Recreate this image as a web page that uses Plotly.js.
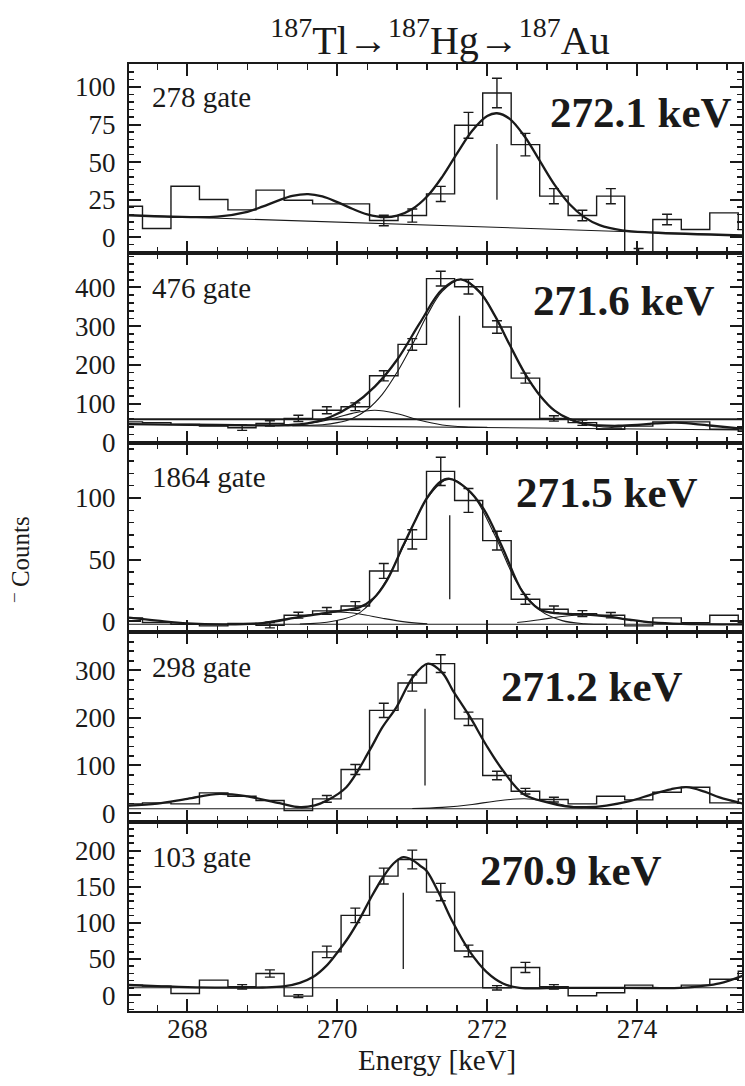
<!DOCTYPE html>
<html><head><meta charset="utf-8">
<script src="https://cdn.plot.ly/plotly-3.0.1.min.js"></script>
<style>html,body{margin:0;padding:0;background:#fff}#chart{width:745px;height:1086px}</style>
</head><body><div id="chart"></div>
<script>
// ---- data ----
const binE = [267.21, 267.59, 267.97, 268.35, 268.73, 269.10, 269.48, 269.86, 270.24, 270.62, 271.00, 271.38, 271.75, 272.13, 272.51, 272.89, 273.27, 273.65, 274.02, 274.40, 274.78, 275.16, 275.54];
const gateLabels = ['278 gate', '476 gate', '1864 gate', '298 gate', '103 gate'];
const peakLabels = ['272.1 keV', '271.6 keV', '271.5 keV', '271.2 keV', '270.9 keV'];
const titleText = '<sup>187</sup>Tl\u2192<sup>187</sup>Hg\u2192<sup>187</sup>Au';
const xTitle = 'Energy [keV]';
const yTitle = '<sup>\u2013</sup> Counts';

// panel 1 (278 gate)
const counts1 = [20.6, 5.8, 33.9, 25.1, 18.2, 31.3, 24.6, 22.2, 22.2, 11.1, 14.4, 28.8, 74.5, 96.0, 61.6, 27.3, 14.4, 27.3, -13, 11.8, 5.1, 16.2, 5.0];
const err1 = [null, null, null, null, null, null, null, null, null, 3.5, 4.4, 5, 8.6, 9.8, 7.5, 5, 3.5, 5, 5.5, 3.5, null, null, null];
const fit1E = [267.22, 267.8, 268.4, 268.8, 269.0, 269.2, 269.4, 269.61, 269.8, 270.0, 270.2, 270.4, 270.63, 270.8, 271.0, 271.2, 271.4, 271.6, 271.8, 272.0, 272.13, 272.3, 272.5, 272.7, 272.9, 273.1, 273.3, 273.5, 273.8, 274.2, 275.42];
const fit1V = [14.6, 13.6, 13.7, 16.9, 20.3, 24.2, 27.5, 28.7, 27.1, 23.3, 18.9, 15.2, 13.3, 14.3, 18.7, 27.2, 40.2, 56, 70.9, 80.7, 82.5, 78.8, 67, 50.9, 34.8, 21.9, 13.2, 8.0, 4.6, 3.1, 1.1];
const bg1E = [267.22, 275.42];
const bg1V = [14.6, 1.1];
const mark1E = [272.13, 272.13];
const mark1V = [25, 62];

// panel 2 (476 gate)
const counts2 = [53, 51, 46.5, 42, 38, 49, 62, 83, 92, 172, 253, 423, 402, 298, 166, 62, 51, 34, 42, 53, 53, 34, 29];
const err2 = [null, null, null, null, 7, 7, 8, 9, 10, 13, 15, 19, 19, 16, 13, 7, 7, null, null, null, null, null, null];
const fit2E = [267.22, 267.8, 268.4, 268.9, 269.3, 269.6, 269.9, 270.2, 270.5, 270.8, 271.1, 271.4, 271.65, 271.9, 272.1, 272.3, 272.5, 272.7, 272.9, 273.1, 273.3, 273.5, 273.75, 274.0, 274.25, 274.5, 274.75, 275.0, 275.42];
const fit2V = [47, 46, 45, 44, 44.5, 49, 65, 96, 144, 214, 308, 395, 421, 388, 328, 252, 179, 122, 82, 60, 48, 44, 43, 45, 49, 51, 48, 43, 35];
const main2E = [269.4, 269.8, 270.0, 270.2, 270.4, 270.6, 270.8, 271.0, 271.2, 271.4, 271.65, 271.9, 272.1, 272.3, 272.5, 272.7, 272.9, 273.1, 273.3, 273.5, 273.8];
const main2V = [43, 45.6, 51, 62, 85, 124, 182, 252, 329, 390, 421, 390, 328, 252, 179, 122, 82, 59, 47, 41, 37];
const side2E = [269.0, 269.3, 269.6, 269.9, 270.2, 270.5, 270.8, 271.1, 271.4, 271.7, 272.0];
const side2V = [43.5, 44.4, 48.3, 59.4, 75, 83, 74, 57, 45, 40, 39];
const bg2E = [267.22, 275.42];
const bg2V = [47, 32];
const level2E = [267.22, 275.42];
const level2V = [60, 60];
const mark2E = [271.63, 271.63];
const mark2V = [90, 327];

// panel 3 (1864 gate)
const counts3 = [2.7, -1, -2.4, -3.8, -1.9, -3.2, 4.9, 8.4, 12.4, 40.8, 66.4, 121.6, 98, 65.4, 17.8, 9.7, 6.2, 4.9, -3.8, 2.7, -1.1, 4.9, -1];
const err3 = [null, null, null, null, null, 2.2, 2.4, 2.7, 3.5, 6, 7.8, 11.5, 9.7, 7.6, 4, 2.7, 2.4, 2.2, null, null, null, null, null];
const fit3E = [267.22, 267.6, 268.0, 268.5, 269.0, 269.5, 269.94, 270.3, 270.48, 270.66, 270.88, 271.05, 271.19, 271.37, 271.5, 271.73, 271.95, 272.21, 272.47, 272.69, 272.91, 273.3, 273.6, 273.9, 274.2, 274.6, 275.42];
const fit3V = [3, 0.5, -1.7, -2.5, -1.5, 3.5, 7.6, 11.5, 18.4, 33, 61.6, 83, 99.4, 113, 115.6, 107.5, 91.3, 58.9, 24, 10, 6.5, 5.5, 3.9, 1.2, -1, -2.2, -2.5];
const main3E = [269.5, 269.94, 270.3, 270.6, 270.9, 271.2, 271.5, 271.8, 272.1, 272.4, 272.7, 273.0, 273.3, 273.6];
const main3V = [-2.3, 0, 7, 28, 63, 100, 115.6, 103, 70, 31, 9, 0.5, -2, -2.5];
const side3aE = [269.0, 269.4, 269.7, 270.0, 270.3, 270.6, 270.9, 271.2];
const side3aV = [-1.2, 2.4, 5.8, 7.5, 5.9, 2.4, -0.5, -2.0];
const side3bE = [272.4, 272.7, 273.0, 273.3, 273.6, 273.9, 274.2, 274.5];
const side3bV = [-1.0, 1.2, 3.8, 5.0, 3.8, 1.2, -1.0, -2.0];
const bg3E = [267.22, 275.42];
const bg3V = [-2.5, -2.5];
const mark3E = [271.5, 271.5];
const mark3V = [17.8, 86];

// panel 4 (298 gate)
const counts4 = [19.3, 21.4, 19.3, 42.5, 35.4, 26.3, 5.3, 29.8, 91.6, 215.8, 273.3, 314, 198, 79, 46, 28.4, 19.3, 35.4, 27.7, 43.9, 54.4, 21.4, 29.8];
const err4 = [null, null, null, null, null, null, null, 7, 10.5, 15, 17, 18.6, 14, 9, 6, 5, null, null, null, null, null, null, null];
const fit4E = [267.22, 267.6, 268.0, 268.43, 268.8, 269.23, 269.5, 269.7, 269.86, 270.12, 270.43, 270.6, 270.79, 271.01, 271.21, 271.4, 271.54, 271.77, 271.99, 272.21, 272.48, 272.79, 273.05, 273.32, 273.59, 273.9, 274.21, 274.45, 274.66, 274.9, 275.1, 275.43];
const fit4V = [15.8, 20, 30, 40.4, 35, 20.7, 12.3, 16, 26.3, 54.4, 131.6, 180, 222.8, 286, 314, 295, 258, 202, 142, 89.5, 40.4, 22.8, 14, 12.3, 15.8, 25, 40, 50, 54.4, 45, 33, 19.3];
const side4E = [271.0, 271.4, 271.8, 272.1, 272.5, 272.8, 273.1, 273.4, 273.8];
const side4V = [9.5, 12, 18, 25, 30, 24, 15, 10.5, 9];
const bg4E = [267.22, 275.42];
const bg4V = [9, 9];
const mark4E = [271.17, 271.17];
const mark4V = [58, 219];

// panel 5 (103 gate)
const counts5 = [13.8, 12.4, 2.3, 20.7, 11.5, 29.9, -1.4, 59.8, 110.3, 164.6, 187.6, 142.5, 61.1, 10.1, 38.2, 11.5, -0.9, 3.2, 13.8, 10.1, 13.8, 22, 33];
const err5 = [null, null, null, null, 3, 5, 2, 8, 10, 11, 13, 12, 8, 3, 7, 3, null, null, null, null, null, null, null];
const fit5E = [267.22, 267.6, 268.0, 268.5, 269.0, 269.28, 269.5, 269.68, 269.85, 269.99, 270.15, 270.3, 270.45, 270.61, 270.75, 270.88, 271.0, 271.1, 271.19, 271.37, 271.54, 271.77, 271.99, 272.21, 272.43, 273.0, 273.77, 274.2, 274.57, 274.85, 275.1, 275.43];
const fit5V = [14, 12.5, 11, 10.3, 10.5, 12, 17, 25.3, 40, 57.5, 80, 105.7, 135, 163, 182, 190.8, 187, 179.3, 172, 138, 101, 59.8, 32.2, 16.1, 10.1, 10, 10.1, 9.8, 10, 12.5, 16.1, 27.6];
const bg5E = [267.22, 275.42];
const bg5V = [10.1, 10.1];
const mark5E = [270.88, 270.88];
const mark5V = [36, 141.6];

// axis settings
const xRange = [267.22, 275.40];
const yRanges = [[-10.8, 115.3], [-1, 488], [-8.9, 144.8], [-17.9, 380], [-22, 240]];
const yDticks = [25, 100, 50, 100, 50];
const yMinor = [5, 20, 10, 20, 10];

// ---- build ----
const INK = '#1a1a1a';
const SERIF = 'Liberation Serif, Times New Roman, serif';
const M = {l: 129, r: 2.5, t: 64, b: 75};
const W = 745, H = 1086;
const PW = W - M.l - M.r, PH = H - M.t - M.b;
const px2x = px => (px - M.l) / PW;
const py2y = py => 1 - (py - M.t) / PH;

const panels = [
  {counts: counts1, err: err1, fits: [[fit1E, fit1V]], comps: [], bgs: [[bg1E, bg1V]], mark: [mark1E, mark1V]},
  {counts: counts2, err: err2, fits: [[fit2E, fit2V]], comps: [[main2E, main2V], [side2E, side2V]], bgs: [[bg2E, bg2V]], thick: [[level2E, level2V]], mark: [mark2E, mark2V]},
  {counts: counts3, err: err3, fits: [[fit3E, fit3V]], comps: [[main3E, main3V], [side3aE, side3aV], [side3bE, side3bV]], bgs: [[bg3E, bg3V]], mark: [mark3E, mark3V]},
  {counts: counts4, err: err4, fits: [[fit4E, fit4V]], comps: [[side4E, side4V]], bgs: [[bg4E, bg4V]], mark: [mark4E, mark4V]},
  {counts: counts5, err: err5, fits: [[fit5E, fit5V]], comps: [], bgs: [[bg5E, bg5V]], mark: [mark5E, mark5V]}
];

const traces = [];
const layout = {
  width: W, height: H, margin: M,
  paper_bgcolor: '#fff', plot_bgcolor: '#fff',
  showlegend: false,
  font: {family: SERIF, color: INK},
  title: {text: titleText, font: {family: SERIF, size: 40, color: INK}, x: 440 / W, xanchor: 'center', xref: 'container', y: 1 - 40 / H, yanchor: 'middle'},
  annotations: []
};

panels.forEach((p, i) => {
  const n = i + 1;
  const xa = 'x' + (n === 1 ? '' : n), ya = 'y' + (n === 1 ? '' : n);
  const base = {xaxis: xa, yaxis: ya, hoverinfo: 'skip', showlegend: false};
  p.bgs.forEach(b => traces.push(Object.assign({type: 'scatter', mode: 'lines', x: b[0], y: b[1], line: {color: INK, width: 1.1}}, base)));
  (p.thick || []).forEach(b => traces.push(Object.assign({type: 'scatter', mode: 'lines', x: b[0], y: b[1], line: {color: INK, width: 2}}, base)));
  p.comps.forEach(c => traces.push(Object.assign({type: 'scatter', mode: 'lines', x: c[0], y: c[1], line: {color: INK, width: 1.1, shape: 'spline', smoothing: 1}}, base)));
  traces.push(Object.assign({type: 'scatter', mode: 'lines', x: binE, y: p.counts, line: {color: INK, width: 1.4, shape: 'hvh'}}, base));
  const ex = [], ey = [], ee = [];
  p.err.forEach((e, k) => { if (e !== null) { ex.push(binE[k]); ey.push(p.counts[k]); ee.push(e); } });
  traces.push(Object.assign({type: 'scatter', mode: 'markers', x: ex, y: ey, marker: {size: 1, color: 'rgba(0,0,0,0)'},
    error_y: {type: 'data', array: ee, visible: true, color: INK, thickness: 1.4, width: 5}}, base));
  p.fits.forEach(f => traces.push(Object.assign({type: 'scatter', mode: 'lines', x: f[0], y: f[1], line: {color: INK, width: 2.3, shape: 'spline', smoothing: 1}}, base)));
  traces.push(Object.assign({type: 'scatter', mode: 'lines', x: p.mark[0], y: p.mark[1], line: {color: INK, width: 1.3}}, base));

  const dom = [1 - n * 0.2, 1 - (n - 1) * 0.2];
  const xax = {
    domain: [0, 1], anchor: ya, range: xRange, tick0: 268, dtick: 2,
    ticks: 'inside', ticklen: 12, tickwidth: 2, tickcolor: INK,
    minor: {dtick: 0.4, tick0: 268, ticks: 'inside', ticklen: 6, tickwidth: 1.6, tickcolor: INK, showgrid: false},
    showline: true, linewidth: 2, linecolor: INK, mirror: 'ticks',
    showgrid: false, zeroline: false, fixedrange: true,
    showticklabels: n === 5, tickfont: {family: SERIF, size: 27, color: INK}, ticklabelstandoff: -7
  };
  if (n > 1) xax.matches = 'x';
  layout['xaxis' + (n === 1 ? '' : n)] = xax;
  layout['yaxis' + (n === 1 ? '' : n)] = {
    domain: dom, anchor: xa, range: yRanges[i], tick0: 0, dtick: yDticks[i],
    ticks: 'inside', ticklen: 12, tickwidth: 2, tickcolor: INK,
    minor: {dtick: yMinor[i], tick0: 0, ticks: 'inside', ticklen: 5, tickwidth: 1.6, tickcolor: INK, showgrid: false},
    showline: true, linewidth: 2, linecolor: INK, mirror: 'ticks',
    showgrid: false, zeroline: false, fixedrange: true,
    tickfont: {family: SERIF, size: 27, color: INK}, ticklabelstandoff: 6
  };
});

const gateY = [96.7, 288, 476.7, 666.7, 856.7];
const peakX = [641.5, 624, 607.5, 592.5, 571];
const peakY = [113, 300, 493, 686.7, 870];
gateLabels.forEach((t, i) => layout.annotations.push({text: t, xref: 'paper', yref: 'paper', x: px2x(150), y: py2y(gateY[i]), xanchor: 'left', yanchor: 'middle', showarrow: false, font: {family: SERIF, size: 29, color: INK}}));
peakLabels.forEach((t, i) => layout.annotations.push({text: '<b>' + t + '</b>', xref: 'paper', yref: 'paper', x: px2x(peakX[i]), y: py2y(peakY[i]), xanchor: 'center', yanchor: 'middle', showarrow: false, font: {family: SERIF, size: 43, color: INK}}));
layout.annotations.push({text: xTitle, xref: 'paper', yref: 'paper', x: px2x(437), y: py2y(1060), xanchor: 'center', yanchor: 'middle', showarrow: false, font: {family: SERIF, size: 29, color: INK}});
layout.annotations.push({text: yTitle, xref: 'paper', yref: 'paper', x: px2x(18), y: py2y(560), xanchor: 'center', yanchor: 'middle', textangle: -90, showarrow: false, font: {family: SERIF, size: 25, color: INK}});

Plotly.newPlot('chart', traces, layout, {staticPlot: true, displayModeBar: false});
</script>
</body></html>
